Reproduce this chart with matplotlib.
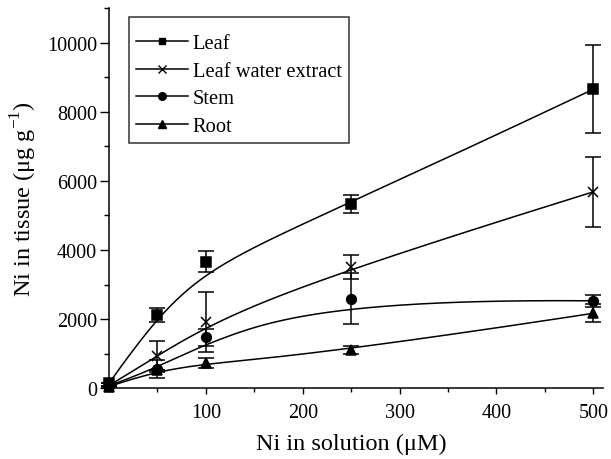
import numpy as np
import matplotlib
matplotlib.use('Agg')
import matplotlib.pyplot as plt
from matplotlib.ticker import MultipleLocator

plt.rcParams['font.family'] = ['Liberation Serif', 'DejaVu Serif']
plt.rcParams['mathtext.fontset'] = 'custom'
plt.rcParams['mathtext.rm'] = 'Liberation Serif'

# Ni in solution (uM)
conc = [0, 50, 100, 250, 500]

leaf = [145, 2115, 3660, 5340, 8650]
leaf_err = [0, 207, 310, 255, 1268]

leaf_water = [80, 925, 1925, 3506, 5682]
leaf_water_err = [0, 450, 867, 347, 1012]

stem = [80, 558, 1474, 2590, 2530]
stem_err = [0, 270, 255, 740, 165]

root = [50, 520, 722, 1100, 2170]
root_err = [0, 0, 145, 110, 260]

series = [
    ('Leaf', leaf, leaf_err, 's', 6.5),
    ('Leaf water extract', leaf_water, leaf_water_err, 'x', 7.5),
    ('Stem', stem, stem_err, 'o', 7),
    ('Root', root, root_err, '^', 7),
]


def bspline(px, py, degree=3, n=300):
    # clamped B-spline that uses the data points as control points
    # (curve touches only the first and last point)
    pts = np.column_stack([px, py]).astype(float)
    m = len(pts)
    inner = np.linspace(0, 1, m - degree + 1)[1:-1]
    knots = np.concatenate([np.zeros(degree + 1), inner, np.ones(degree + 1)])
    u = np.linspace(0, 1, n)
    u[-1] = 1 - 1e-12
    # Cox-de Boor
    N = np.zeros((n, len(knots) - 1))
    for i in range(len(knots) - 1):
        N[:, i] = (u >= knots[i]) & (u < knots[i + 1])
    for k in range(1, degree + 1):
        newN = np.zeros((n, len(knots) - 1 - k))
        for i in range(len(knots) - 1 - k):
            a = knots[i + k] - knots[i]
            b = knots[i + k + 1] - knots[i + 1]
            t1 = (u - knots[i]) / a * N[:, i] if a > 0 else 0
            t2 = (knots[i + k + 1] - u) / b * N[:, i + 1] if b > 0 else 0
            newN[:, i] = t1 + t2
        N = newN
    curve = N @ pts
    return curve[:, 0], curve[:, 1]


fig = plt.figure(figsize=(6.11, 4.60), dpi=100)
ax = fig.add_axes([0.1784, 0.1537, 0.8085, 0.8267])

for name, vals, errs, mk, ms in series:
    cx, cy = bspline(conc, vals)
    ax.plot(cx, cy, color='black', lw=1.1)
    ax.errorbar(conc, vals, yerr=errs, fmt=mk, color='black', ms=ms,
                mew=1.1, elinewidth=1.1, capsize=5.5, capthick=1.1,
                clip_on=False, zorder=3)
    ax.plot([], [], color='black', marker=mk, ms=ms - 1.5, mew=1.0,
            lw=1.1, label=name)

ax.set_xlim(0, 510)
ax.set_ylim(0, 11000)
ax.xaxis.set_major_locator(MultipleLocator(100))
ax.xaxis.set_minor_locator(MultipleLocator(50))
ax.yaxis.set_major_locator(MultipleLocator(2000))
ax.yaxis.set_minor_locator(MultipleLocator(1000))
ax.set_xticks([100, 200, 300, 400, 500])

for side in ['top', 'right']:
    ax.spines[side].set_visible(False)
for side in ['left', 'bottom']:
    ax.spines[side].set_linewidth(1.1)

ax.tick_params(axis='x', which='major', direction='out', length=4.5,
               width=1.0, labelsize=14.5, pad=6)
ax.tick_params(axis='x', which='minor', direction='out', length=3, width=1.0)
ax.tick_params(axis='y', which='major', direction='out', length=6.5,
               width=1.0, labelsize=14.5, pad=2)
ax.tick_params(axis='y', which='minor', direction='out', length=3.5,
               width=1.0)

ax.set_xlabel('Ni in solution (μM)', fontsize=17.5)
ax.xaxis.set_label_coords(0.49, -0.116)
ax.set_ylabel('Ni in tissue (μg g$^{-1}$)', fontsize=17.5, labelpad=6)

leg = ax.legend(loc='upper left', bbox_to_anchor=(0.0405, 0.9755),
                fontsize=14.8, frameon=True, fancybox=False,
                edgecolor='black', handlelength=2.5, handletextpad=0.25,
                labelspacing=0.4, borderpad=0.35, borderaxespad=0,
                title=' ', title_fontsize=1)
leg.get_frame().set_linewidth(1.1)

fig.savefig('out.png', dpi=100)
